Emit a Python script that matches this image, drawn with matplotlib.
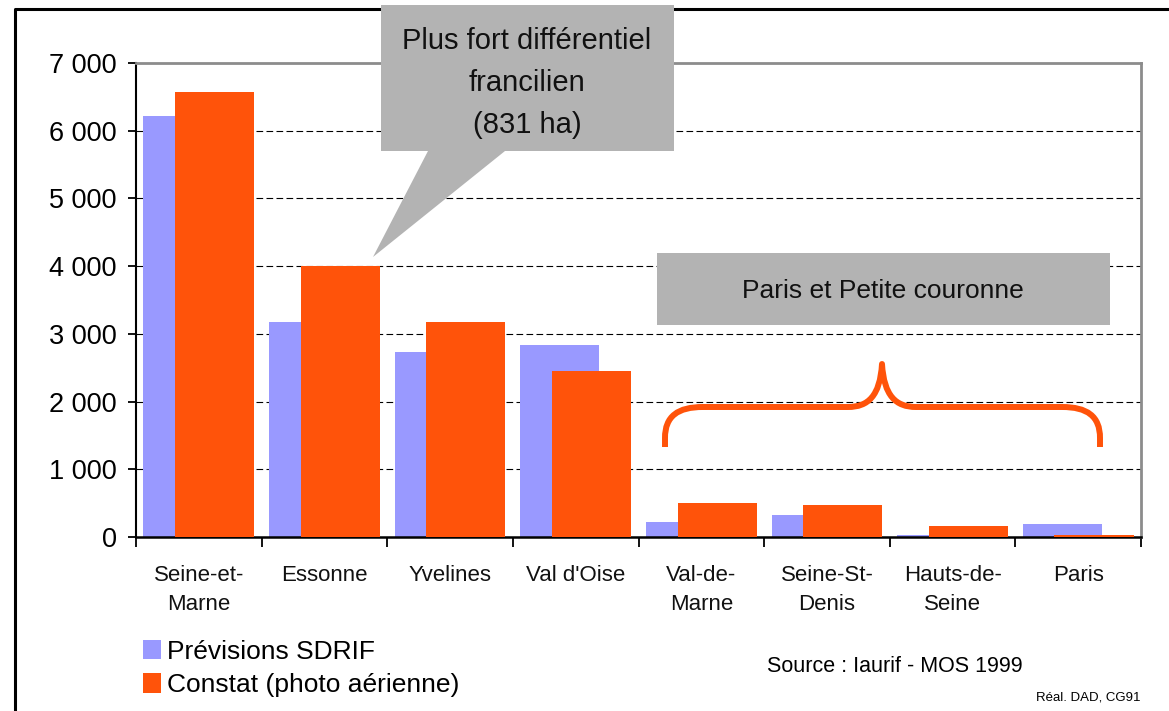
import matplotlib
matplotlib.use("Agg")
import matplotlib.pyplot as plt
from matplotlib.transforms import Affine2D
from matplotlib.path import Path
from matplotlib.patches import PathPatch, Polygon, Rectangle
from matplotlib.lines import Line2D
from matplotlib.ticker import FuncFormatter, FixedLocator
import numpy as np

plt.rcParams['font.family'] = ['Liberation Sans', 'DejaVu Sans']

# data (ha)
departements = ["Seine-et-\nMarne", "Essonne", "Yvelines", "Val d'Oise",
                "Val-de-\nMarne", "Seine-St-\nDenis", "Hauts-de-\nSeine", "Paris"]
previsions = [6220, 3170, 2730, 2840, 220, 320, 25, 190]
constat = [6570, 4000, 3180, 2450, 505, 475, 160, 30]
yticks = [0, 1000, 2000, 3000, 4000, 5000, 6000, 7000]

blue = "#9999FF"
orange = "#FF530A"
grey = "#B3B3B3"

W, H = 1169, 711
fig = plt.figure(figsize=(W / 100, H / 100), dpi=100)
# helper transform: reference picture pixels -> figure
px = Affine2D().scale(1 / W, -1 / H).translate(0, 1) + fig.transFigure

ax = fig.add_axes([136 / W, (H - 537) / H, (1141 - 136) / W, (537 - 63) / H])

x = np.arange(len(departements))
bw = 0.63
b1 = ax.bar(x - 0.126, previsions, bw, color=blue, zorder=2, label="Prévisions SDRIF")
b2 = ax.bar(x + 0.126, constat, bw, color=orange, zorder=3, label="Constat (photo aérienne)")

ax.set_xlim(-0.5, len(departements) - 0.5)
ax.set_ylim(0, 7000)
ax.set_yticks(yticks)
ax.yaxis.set_major_formatter(FuncFormatter(lambda v, p: f"{int(v):,}".replace(",", " ")))
ax.tick_params(axis="y", direction="out", length=6, width=1.3, labelsize=19.5, pad=8)

# ticks at category boundaries, labels at centres
ax.xaxis.set_major_locator(FixedLocator(np.arange(-0.5, len(departements), 1.0)))
ax.xaxis.set_minor_locator(FixedLocator(x))
ax.set_xticklabels([], minor=False)
ax.set_xticklabels(departements, minor=True, fontsize=16, linespacing=1.5)
ax.tick_params(axis="x", which="major", direction="out", length=7, width=1.3)
ax.tick_params(axis="x", which="minor", length=0, pad=20)
for t in ax.get_xticklabels(minor=True):
    t.set_verticalalignment("top")
    t.set_color("#111111")

for v in yticks[1:-1]:
    ax.axhline(v, color="black", lw=0.8, ls=(0, (6, 3)), zorder=1)

ax.spines["left"].set_linewidth(1.5)
ax.spines["bottom"].set_linewidth(1.8)
for s in ("top", "right"):
    ax.spines[s].set_color("#8C8C8C")
    ax.spines[s].set_linewidth(2)

# outer frame (top + left only)
fig.add_artist(Line2D([15, 15, W], [H, 9, 9], transform=px, color="black", lw=2.2))

# callout
callout = Polygon([(381, 5), (674, 5), (674, 151), (505, 151), (373, 257), (428, 151), (381, 151)],
                  closed=True, transform=px, facecolor=grey, edgecolor="none", zorder=10)
fig.add_artist(callout)
fig.text(527, 83, "Plus fort différentiel\nfrancilien\n(831 ha)", transform=px, ha="center",
         va="center", fontsize=21, linespacing=1.62, color="#111111", zorder=11)

# Paris et Petite couronne box
fig.add_artist(Rectangle((657, 253), 453, 72, transform=px, facecolor=grey, edgecolor="none", zorder=10))
fig.text(883, 291, "Paris et Petite couronne", transform=px, ha="center", va="center",
         fontsize=19, color="#111111", zorder=11)

# brace
verts = [(665, 447), (665, 438),
         (665, 416), (678, 407), (703, 407),
         (848, 407),
         (868, 407), (880, 396), (882, 364),
         (884, 396), (896, 407), (916, 407),
         (1062, 407),
         (1087, 407), (1100, 416), (1100, 438),
         (1100, 447)]
codes = [Path.MOVETO, Path.LINETO,
         Path.CURVE4, Path.CURVE4, Path.CURVE4,
         Path.LINETO,
         Path.CURVE4, Path.CURVE4, Path.CURVE4,
         Path.CURVE4, Path.CURVE4, Path.CURVE4,
         Path.LINETO,
         Path.CURVE4, Path.CURVE4, Path.CURVE4,
         Path.LINETO]
fig.add_artist(PathPatch(Path(verts, codes), transform=px, facecolor="none", edgecolor=orange,
                         lw=4.3, capstyle="butt", joinstyle="round", zorder=9))

# legend
fig.legend(handles=[b1, b2], loc="upper left", bbox_to_anchor=(143, 640), bbox_transform=px,
           frameon=False, fontsize=19, handlelength=0.7, handleheight=0.75,
           handletextpad=0.2, labelspacing=0.35, borderpad=0, borderaxespad=0)

fig.text(895, 667, "Source : Iaurif - MOS 1999", transform=px, ha="center", va="center", fontsize=15.5)
fig.text(1141, 697, "Réal. DAD, CG91", transform=px, ha="right", va="center", fontsize=9.5)

fig.savefig("out.png", dpi=100)
